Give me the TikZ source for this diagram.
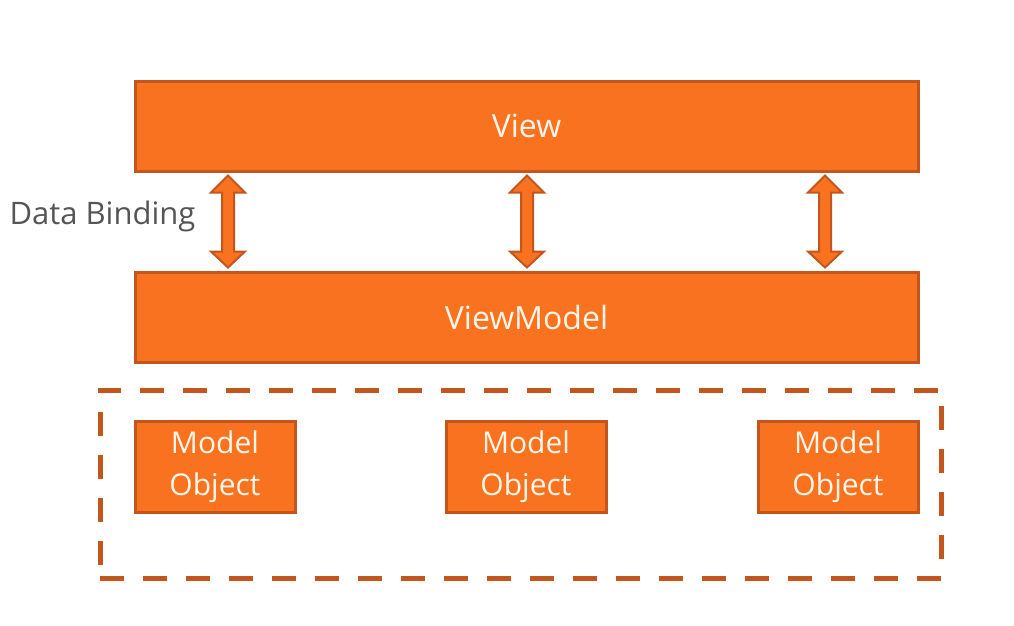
\documentclass[tikz,border=0pt]{standalone}
\usepackage{fontspec}
\setmainfont{Open Sans}
\usetikzlibrary{calc}
\definecolor{boxfill}{HTML}{F97220}
\definecolor{boxline}{HTML}{C2561C}
\definecolor{labelgray}{HTML}{555555}
\definecolor{boxtext}{HTML}{FFF6EA}
\begin{document}
\begin{tikzpicture}[x=1pt,y=-1pt,
  layer/.style={draw=boxline,fill=boxfill,line width=3pt,minimum width=783pt,minimum height=90pt,
    text=boxtext,font=\fontsize{32}{38}\selectfont},
  modelbox/.style={draw=boxline,fill=boxfill,line width=3pt,minimum width=160pt,minimum height=91pt,
    text=boxtext,align=center,inner sep=0pt,font=\fontsize{30}{42}\selectfont},
  group/.style={draw=boxline,line width=5pt,dash pattern=on 24pt off 19pt},
  linkarrow/.style={draw=boxline,fill=boxfill,line width=2pt,line join=miter}]
\useasboundingbox (0,0) rectangle (1014,625);
\fill[white] (0,0) rectangle (1014,625);

\node[layer] (view) at (526.5,126) {View};
\node[layer] (vm) at (526.5,317) {ViewModel};

\node[modelbox] (m1) at (215,466.5) {Model\\Object};
\node[modelbox] (m2) at (526,466.5) {Model\\Object};
\node[modelbox] (m3) at (838,466.5) {Model\\Object};

\node[group,minimum width=841pt,minimum height=188pt] (models) at (520.5,484) {};

\node[text=labelgray,font=\fontsize{31}{36}\selectfont,anchor=west] (db) at (6,216) {Data Binding};

% two-headed block arrows between View and ViewModel
\foreach \x in {228,527,825}{
  \coordinate (t) at (view.south -| \x,0);
  \coordinate (b) at (vm.north -| \x,0);
  \draw[linkarrow] ($(t)+(0,3)$) -- ++(17,17) -- ++(-11,0) -- ($(b)+(6,-19)$)
    -- ++(11,0) -- ($(b)+(0,-3)$) -- ++(-17,-16) -- ++(11,0) -- ($(t)+(-6,20)$)
    -- ++(-11,0) -- cycle;
}
\end{tikzpicture}
\end{document}
